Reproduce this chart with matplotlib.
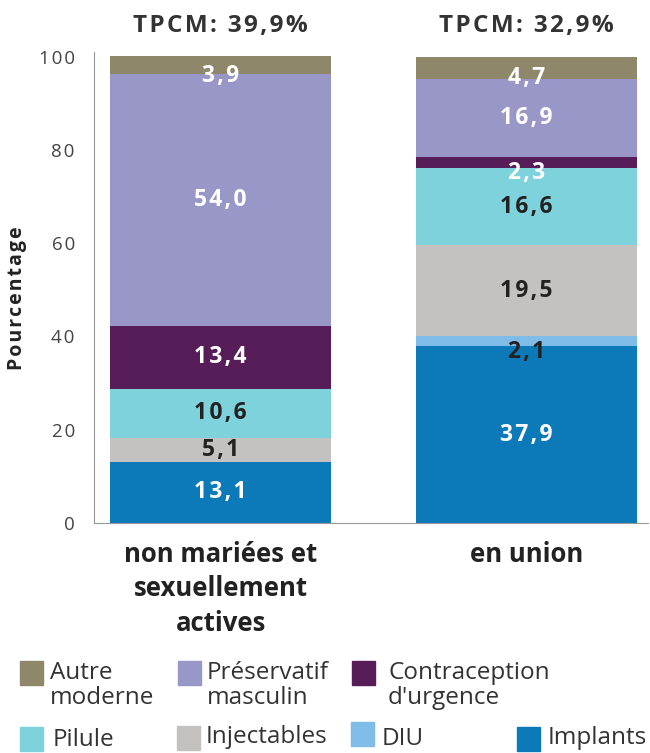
import numpy as np
import matplotlib.pyplot as plt
from matplotlib.patches import Rectangle

# Données
groupes = ['non mariées et\nsexuellement\nactives', 'en union']
tpcm = ['TPCM: 39,9%', 'TPCM: 32,9%']
methodes = ['Implants', 'DIU', 'Injectables', 'Pilule',
            "Contraception\nd'urgence", 'Préservatif\nmasculin', 'Autre\nmoderne']
couleurs = ['#0C79B9', '#7FBCE8', '#C4C2C1', '#7ED2DC',
            '#561D59', '#9897C8', '#8F876A']
valeurs = {
    'Implants': [13.1, 37.9],
    'DIU': [0.0, 2.1],
    'Injectables': [5.1, 19.5],
    'Pilule': [10.6, 16.6],
    "Contraception\nd'urgence": [13.4, 2.3],
    'Préservatif\nmasculin': [54.0, 16.9],
    'Autre\nmoderne': [3.9, 4.7],
}
texte_fonce = ['DIU', 'Injectables', 'Pilule']

plt.rcParams['font.family'] = ['Open Sans', 'DejaVu Sans']


def espace(s):
    # petit espacement entre les lettres
    return '\n'.join('\u200a'.join(l) for l in s.split('\n'))


fig = plt.figure(figsize=(6.5, 7.53), dpi=100)
ax = fig.add_axes([0.145, 0.3055, 0.852, 0.6255])

x = np.arange(len(groupes))
bas = np.zeros(len(groupes))
for m, c in zip(methodes, couleurs):
    v = np.array(valeurs[m])
    ax.bar(x, v, bottom=bas, width=0.72, color=c, edgecolor='none')
    for i in range(len(groupes)):
        if v[i] <= 0:
            continue
        y = bas[i] + v[i] / 2
        if v[i] < 5:
            y -= 2.3
        col = '#222222' if m in texte_fonce else 'white'
        ax.text(x[i], y, espace(f'{v[i]:.1f}'.replace('.', ',')), ha='center',
                va='center', color=col, fontsize=16.5, fontweight='bold')
    bas += v

for i, t in enumerate(tpcm):
    ax.text(x[i], 105.2, espace(t), ha='center', va='baseline', fontsize=17.5,
            fontweight='bold', color='#333333')

ax.set_xlim(-0.413, 1.397)
ax.set_ylim(0, 101)
ax.set_yticks([0, 20, 40, 60, 80, 100])
ax.set_yticklabels([espace(str(t)) for t in [0, 20, 40, 60, 80, 100]])
ax.tick_params(axis='y', length=0, labelsize=13.5, labelcolor='#444444', pad=14)
ax.tick_params(axis='x', length=0, pad=13)
ax.set_xticks(x)
ax.set_xticklabels(groupes, fontsize=18.5, fontweight='bold', color='#222222',
                   linespacing=1.35)
ax.set_ylabel(espace('Pourcentage'), fontsize=14, fontweight='bold',
              color='#222222')
ax.yaxis.set_label_coords(-0.122, 0.478)
for s in ['top', 'right']:
    ax.spines[s].set_visible(False)
ax.spines['left'].set_color('#999999')
ax.spines['bottom'].set_color('#999999')

# Légende manuelle (coordonnées en pixels de la figure)
W, H = 650, 753
ordre = ['Autre\nmoderne', 'Préservatif\nmasculin', "Contraception\nd'urgence",
         'Pilule', 'Injectables', 'DIU', 'Implants']
pos = [(20, 661, 50, 665), (178, 661, 207, 665), (352, 661, 388, 665),
       (20, 727, 53, 732), (177, 726, 206, 729), (351, 722, 382, 731),
       (517, 727, 548, 730)]
for m, (bx, by, tx, ty) in zip(ordre, pos):
    c = couleurs[methodes.index(m)]
    fig.add_artist(Rectangle((bx / W, 1 - (by + 24) / H), 23 / W, 24 / H,
                             transform=fig.transFigure, color=c))
    fig.text(tx / W, 1 - (ty - 4) / H, m, ha='left', va='top', fontsize=17.5,
             color='#333333', linespacing=1.05)

plt.savefig('out.png', dpi=100)
